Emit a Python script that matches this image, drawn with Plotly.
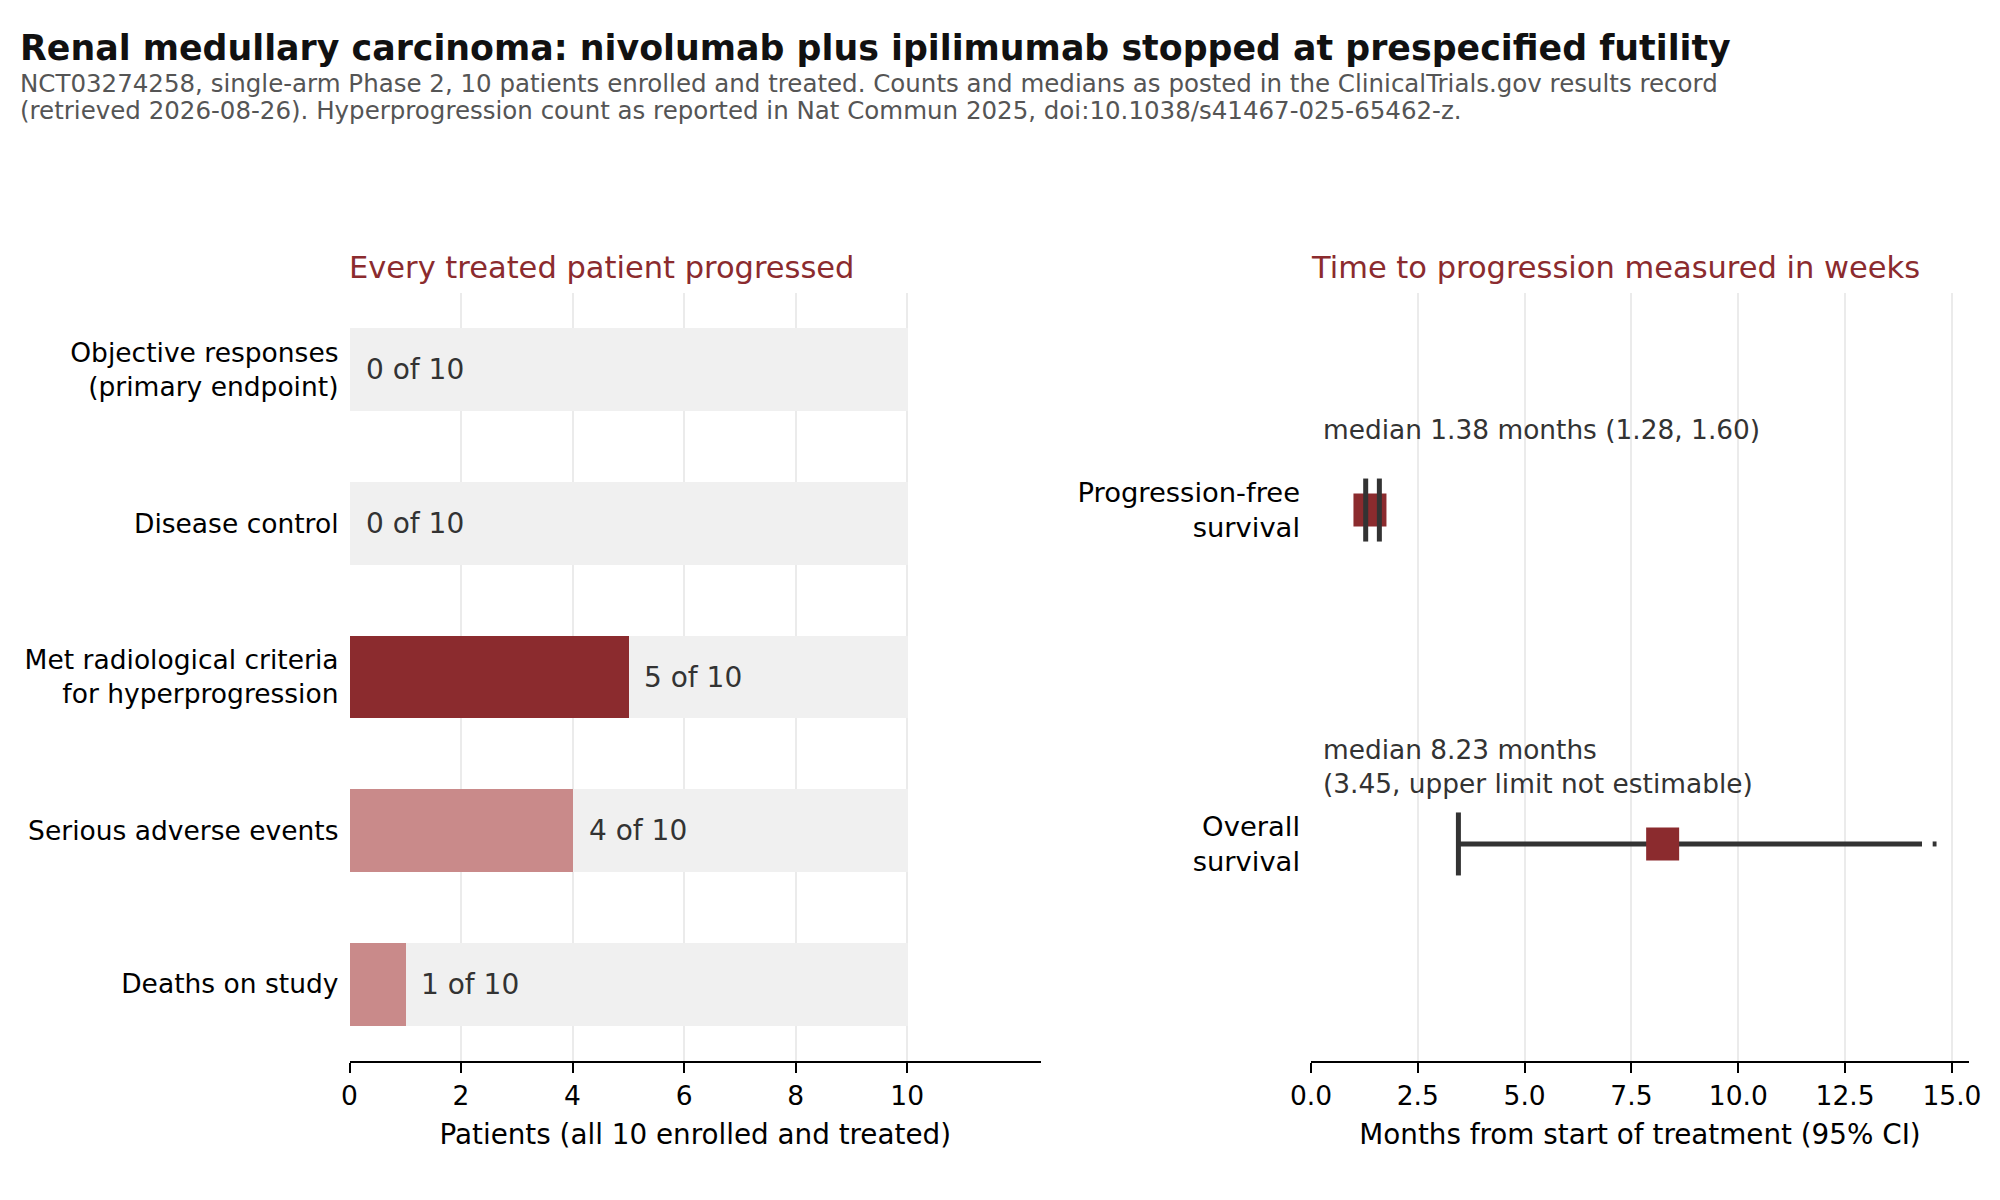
import plotly.graph_objects as go

# left panel: patient counts out of 10 enrolled
outcomes = [
    "Objective responses<br>(primary endpoint)",
    "Disease control",
    "Met radiological criteria<br>for hyperprogression",
    "Serious adverse events",
    "Deaths on study",
]
counts = [0, 0, 5, 4, 1]
enrolled = [10, 10, 10, 10, 10]
bar_colors = ["#8B2B2E", "#8B2B2E", "#8B2B2E", "#C98A8A", "#C98A8A"]

# right panel: survival medians (months) with 95% CI
endpoints = ["Progression-free<br>survival", "Overall<br>survival"]
endpoint_pos = [1, 0]
medians = [1.38, 8.23]
ci_low = [1.28, 3.45]
ci_high = [1.60, None]  # OS upper limit not estimable
os_line_end = 14.3
os_tail = [14.55, 14.64]
median_labels = [
    "median 1.38 months (1.28, 1.60)",
    "median 8.23 months<br>(3.45, upper limit not estimable)",
]

TITLE = "Renal medullary carcinoma: nivolumab plus ipilimumab stopped at prespecified futility"
SUBTITLE = [
    "NCT03274258, single-arm Phase 2, 10 patients enrolled and treated. Counts and medians as posted in the ClinicalTrials.gov results record",
    "(retrieved 2026-08-26). Hyperprogression count as reported in Nat Commun 2025, doi:10.1038/s41467-025-65462-z.",
]

DARK = "#8B2B2E"
INK = "#333333"
FONT = "DejaVu Sans"

# page body has an 8px margin, so the figure is 1984x1184 and positions are mapped into it
W, H = 1984, 1184


def px_x(x):
    return (x - 8) / W


def px_y(y):
    return 1 - (y - 8) / H


fig = go.Figure()

# grey "of 10" track then the count bar on top
fig.add_trace(go.Bar(
    x=enrolled, y=outcomes, orientation="h", width=0.54,
    marker=dict(color="#F0F0F0", line=dict(width=0)),
    xaxis="x", yaxis="y", hoverinfo="skip", showlegend=False,
))
fig.add_trace(go.Bar(
    x=counts, y=outcomes, orientation="h", width=0.54,
    marker=dict(color=bar_colors, line=dict(width=0)),
    xaxis="x", yaxis="y", showlegend=False,
))

for c, n, cat in zip(counts, enrolled, outcomes):
    fig.add_annotation(
        x=c, y=cat, xref="x", yref="y", text=f"{c} of {n}",
        showarrow=False, xanchor="left", xshift=14,
        font=dict(size=28, color=INK, family=FONT),
    )

# CI lines
for pos, lo, hi in zip(endpoint_pos, ci_low, ci_high):
    end = hi if hi is not None else os_line_end
    fig.add_trace(go.Scatter(
        x=[lo, end], y=[pos, pos], mode="lines",
        line=dict(color=INK, width=5), xaxis="x2", yaxis="y2",
        hoverinfo="skip", showlegend=False,
    ))
    if hi is None:
        fig.add_trace(go.Scatter(
            x=os_tail, y=[pos, pos], mode="lines",
            line=dict(color=INK, width=5), xaxis="x2", yaxis="y2",
            hoverinfo="skip", showlegend=False,
        ))

fig.add_trace(go.Scatter(
    x=medians, y=endpoint_pos, mode="markers",
    marker=dict(symbol="square", size=33, color=DARK, line=dict(width=0)),
    xaxis="x2", yaxis="y2", showlegend=False,
))

# caps drawn over the markers
cap_x, cap_y = [], []
for pos, lo, hi in zip(endpoint_pos, ci_low, ci_high):
    cap_x.append(lo)
    cap_y.append(pos)
    if hi is not None:
        cap_x.append(hi)
        cap_y.append(pos)
fig.add_trace(go.Scatter(
    x=cap_x, y=cap_y, mode="markers",
    marker=dict(symbol="line-ns", size=45, line=dict(color=INK, width=5)),
    xaxis="x2", yaxis="y2", hoverinfo="skip", showlegend=False,
))

for pos, lab in zip(endpoint_pos, median_labels):
    n_lines = lab.count("<br>") + 1
    fig.add_annotation(
        x=0, y=pos, xref="x2", yref="y2", text=lab, align="left",
        showarrow=False, xanchor="left", yanchor="middle", xshift=10,
        yshift=81 - 4 * (n_lines - 1),
        font=dict(size=26.4, color=INK, family=FONT),
    )

# titles
fig.add_annotation(
    x=px_x(18), y=px_y(48), xref="paper", yref="paper", xanchor="left", yanchor="middle",
    text=f"<b>{TITLE}</b>", showarrow=False,
    font=dict(size=34.8, color="#111111", family=FONT),
)
for line, ypx in zip(SUBTITLE, [84, 111]):
    fig.add_annotation(
        x=px_x(18), y=px_y(ypx), xref="paper", yref="paper", xanchor="left", yanchor="middle",
        text=line, showarrow=False, font=dict(size=24.5, color="#555555", family=FONT),
    )
for xpx, txt in [(347, "Every treated patient progressed"), (1309, "Time to progression measured in weeks")]:
    fig.add_annotation(
        x=px_x(xpx), y=px_y(267), xref="paper", yref="paper", xanchor="left", yanchor="middle",
        text=txt, showarrow=False, font=dict(size=30.5, color=DARK, family=FONT),
    )

axis_common = dict(
    showline=True, linecolor="black", linewidth=2, mirror=False,
    ticks="outside", ticklen=10, tickwidth=1.5, tickcolor="black",
    showgrid=True, gridcolor="#EBEBEB", gridwidth=1.5, zeroline=False,
    tickfont=dict(size=26.5, color="black", family=FONT), automargin=False,
)
y_top, y_bot = px_y(293), px_y(1061)

fig.update_layout(
    width=W, height=H,
    margin=dict(l=0, r=0, t=0, b=0, pad=0),
    paper_bgcolor="white", plot_bgcolor="white",
    barmode="overlay", bargap=0,
    font=dict(family=FONT),
    xaxis=dict(
        domain=[px_x(349.5), px_x(1041)], range=[0, 12.4], tickvals=[0, 2, 4, 6, 8, 10],
        title=dict(text="Patients (all 10 enrolled and treated)", standoff=15,
                   font=dict(size=27.8, color="black", family=FONT)),
        anchor="y", **axis_common,
    ),
    yaxis=dict(
        domain=[y_bot, y_top], categoryorder="array", categoryarray=outcomes,
        range=[4.5, -0.5], showgrid=False, showline=False, zeroline=False, ticks="",
        ticklabelstandoff=10, tickfont=dict(size=26.5, color="black", family=FONT),
        anchor="x", automargin=False,
    ),
    xaxis2=dict(
        domain=[px_x(1311), px_x(1969)], range=[0, 15.4], tickvals=[0, 2.5, 5, 7.5, 10, 12.5, 15],
        tickformat=".1f",
        title=dict(text="Months from start of treatment (95% CI)", standoff=15,
                   font=dict(size=27.8, color="black", family=FONT)),
        anchor="y2", **axis_common,
    ),
    yaxis2=dict(
        domain=[y_bot, y_top], range=[-0.65, 1.65], tickvals=endpoint_pos, ticktext=endpoints,
        showgrid=False, showline=False, zeroline=False, ticks="",
        ticklabelstandoff=10, tickfont=dict(size=27.4, color="black", family=FONT),
        anchor="x2", automargin=False,
    ),
)

fig.write_html("out.html")
